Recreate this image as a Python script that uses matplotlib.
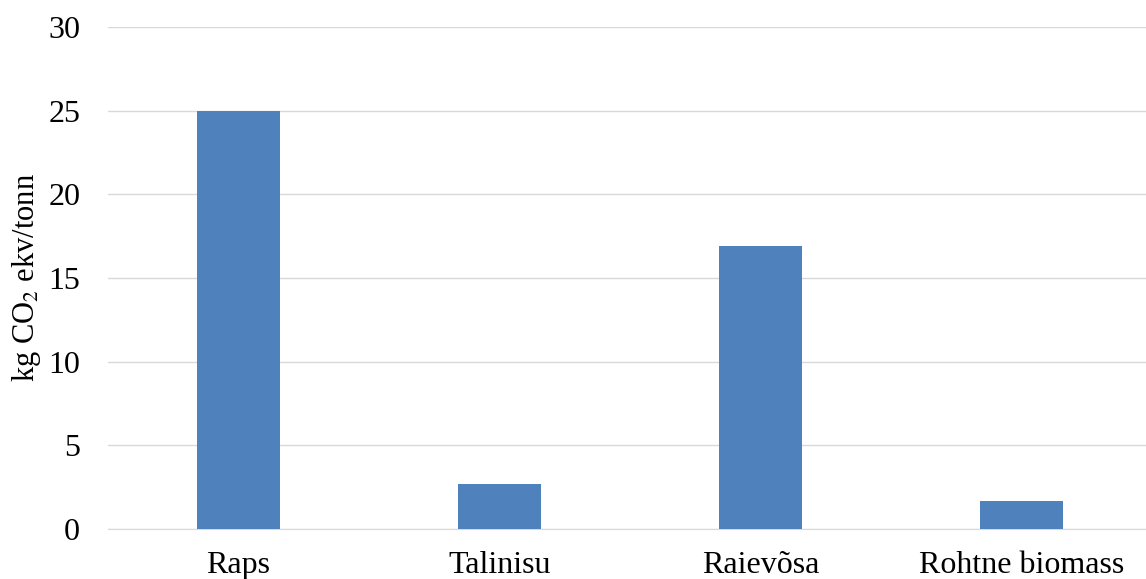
import matplotlib
matplotlib.use("Agg")
import matplotlib.pyplot as plt

# data
categories = ["Raps", "Talinisu", "Raievõsa", "Rohtne biomass"]
values = [25.0, 2.7, 16.9, 1.65]
yticks = [0, 5, 10, 15, 20, 25, 30]

plt.rcParams["font.family"] = ["Liberation Serif", "DejaVu Serif"]
plt.rcParams["mathtext.fontset"] = "stix"

fig = plt.figure(figsize=(11.46, 5.79), dpi=100)
ax = fig.add_axes([108 / 1146, 1 - 529 / 579, 1044 / 1146, 502 / 579])

x = range(len(categories))
ax.bar(x, values, width=0.315, color="#4F81BD", zorder=3)

ax.set_xlim(-0.5, len(categories) - 0.5)
ax.set_ylim(0, 30)
ax.set_yticks(yticks)
ax.set_xticks(list(x))
ax.set_xticklabels(categories)
ax.tick_params(axis="both", length=0, labelsize=23)
ax.tick_params(axis="y", pad=20)
ax.tick_params(axis="x", pad=16)

ax.grid(axis="y", color="#D9D9D9", linewidth=1, zorder=0)
for s in ["top", "right", "left"]:
    ax.spines[s].set_visible(False)
ax.spines["bottom"].set_color("#D9D9D9")

ax.set_ylabel("kg CO$_2$ ekv/tonn", fontsize=22, labelpad=4)

fig.savefig("out.png", dpi=100)
